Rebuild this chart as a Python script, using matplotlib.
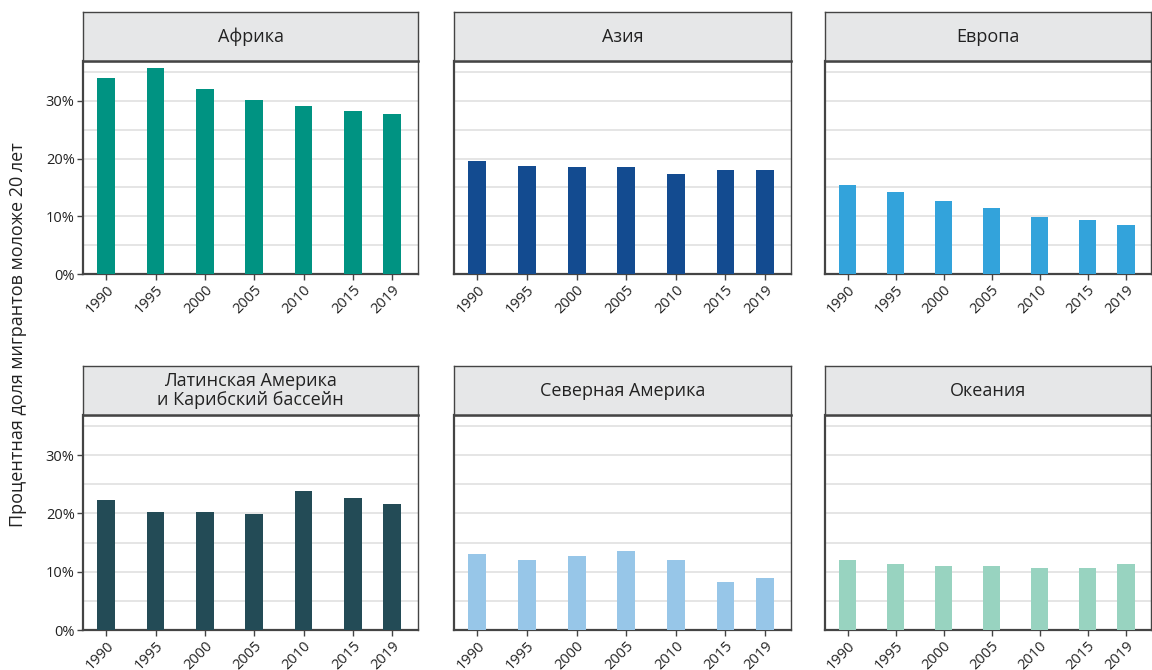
import matplotlib
matplotlib.use("Agg")
import matplotlib.pyplot as plt
from matplotlib.ticker import MultipleLocator, FuncFormatter

plt.rcParams['font.family'] = ['Open Sans', 'DejaVu Sans']

years = [1990, 1995, 2000, 2005, 2010, 2015, 2019]
year_labels = ["1990", "1995", "2000", "2005", "2010", "2015", "2019"]

regions = ["Африка", "Азия", "Европа",
           "Латинская Америка\nи Карибский бассейн", "Северная Америка", "Океания"]

africa = [34.0, 35.7, 32.1, 30.2, 29.1, 28.2, 27.7]
asia = [19.6, 18.7, 18.5, 18.5, 17.3, 18.0, 18.0]
europe = [15.4, 14.2, 12.7, 11.4, 9.9, 9.4, 8.5]
latam = [22.3, 20.3, 20.3, 19.9, 23.9, 22.7, 21.7]
n_america = [13.0, 12.0, 12.7, 13.5, 12.0, 8.3, 8.9]
oceania = [12.0, 11.3, 10.9, 10.9, 10.6, 10.6, 11.3]

series = [africa, asia, europe, latam, n_america, oceania]
colors = ["#009382", "#134b90", "#33a3db", "#234b56", "#97c6e8", "#98d3c0"]

W, H = 1152, 670
fig = plt.figure(figsize=(W / 100, H / 100), dpi=100)

cols_x = [(83, 418), (454, 791), (825, 1151)]
rows_y = [(12, 61, 274), (366, 415, 630)]

def fx(x):
    return x / W

def fy(y):
    return 1 - y / H

edge = "#444444"
for i, (name, vals, col) in enumerate(zip(regions, series, colors)):
    r, c = divmod(i, 3)
    x0, x1 = cols_x[c]
    ys, ym, yb = rows_y[r]
    ax = fig.add_axes([fx(x0), fy(yb), fx(x1) - fx(x0), fy(ym) - fy(yb)])
    sax = fig.add_axes([fx(x0), fy(ym), fx(x1) - fx(x0), fy(ys) - fy(ym)])

    ax.bar(years, vals, width=1.8, color=col, zorder=3)
    ax.set_xlim(1987.65, 2021.6)
    ax.set_ylim(0, 36.9)
    ax.yaxis.set_major_locator(MultipleLocator(10))
    ax.yaxis.set_minor_locator(MultipleLocator(5))
    ax.grid(True, which='both', axis='y', color='#e3e3e3', linewidth=1.3, zorder=0)
    ax.set_xticks(years)
    ax.set_xticklabels(year_labels, rotation=45, ha='right', va='top',
                       rotation_mode='anchor', fontsize=10.5, color='#222222')
    ax.tick_params(axis='x', length=4, width=1, color=edge, pad=2)
    ax.tick_params(axis='y', which='minor', length=0)
    if c == 0:
        ax.yaxis.set_major_formatter(FuncFormatter(lambda v, p: f"{int(v)}%"))
        ax.tick_params(axis='y', which='major', length=4, width=1, color=edge,
                       labelsize=10.5, labelcolor='#222222', pad=2)
    else:
        ax.tick_params(axis='y', which='major', length=0, labelleft=False)
    for s in ax.spines.values():
        s.set_color(edge)
        s.set_linewidth(1.0)
    ax.spines['bottom'].set_linewidth(1.6)
    ax.spines['left'].set_linewidth(1.6)

    sax.set_facecolor("#e6e7e8")
    sax.set_xticks([])
    sax.set_yticks([])
    for s in sax.spines.values():
        s.set_color(edge)
        s.set_linewidth(1.0)
    sax.spines['bottom'].set_linewidth(1.8)
    sax.text(0.5, 0.5, name, ha='center', va='center', fontsize=13,
             color='#222222', transform=sax.transAxes, linespacing=1.1)

fig.text(fx(18), fy(335), "Процентная доля мигрантов моложе 20 лет", rotation=90,
         ha='center', va='center', fontsize=13, color='#222222')

fig.savefig("out.png", dpi=100)
